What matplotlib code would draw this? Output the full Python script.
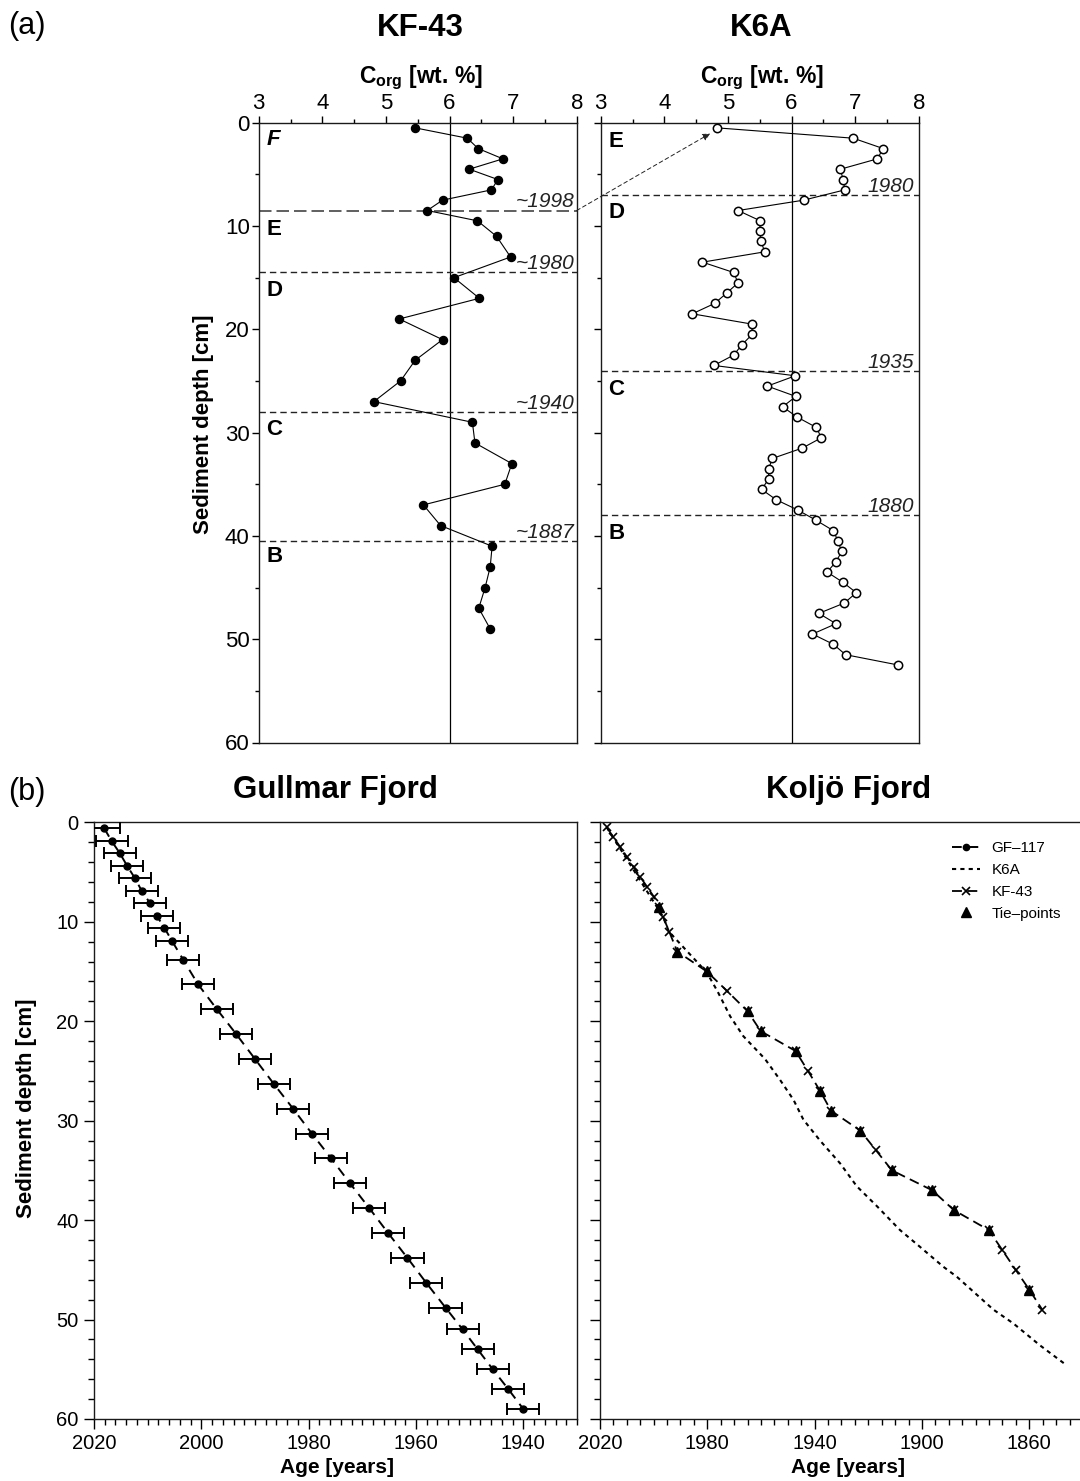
import matplotlib
matplotlib.use('Agg')
import matplotlib.pyplot as plt
from matplotlib.ticker import MultipleLocator, FixedLocator
from matplotlib.patches import ConnectionPatch
from matplotlib.lines import Line2D

plt.rcParams['font.family'] = ['Liberation Sans', 'DejaVu Sans']
plt.rcParams['mathtext.fontset'] = 'custom'
plt.rcParams['mathtext.rm'] = 'Liberation Sans'
plt.rcParams['mathtext.bf'] = 'Liberation Sans:bold'
plt.rcParams['mathtext.it'] = 'Liberation Sans:italic'

# ---------------- data (a) ----------------
KF43_DEPTH = [0.5, 1.5, 2.5, 3.5, 4.5, 5.5, 6.5, 7.5, 8.5, 9.5, 11, 13, 15, 17, 19,
              21, 23, 25, 27, 29, 31, 33, 35, 37, 39, 41, 43, 45, 47, 49]
KF43_CORG = [5.46, 6.28, 6.45, 6.84, 6.31, 6.76, 6.66, 5.89, 5.65, 6.44, 6.74, 6.96,
             6.07, 6.47, 5.21, 5.89, 5.46, 5.23, 4.81, 6.36, 6.40, 6.98, 6.87, 5.59,
             5.86, 6.67, 6.64, 6.56, 6.46, 6.64]

K6A_DEPTH = [0.5, 1.5, 2.5, 3.5, 4.5, 5.5, 6.5, 7.5, 8.5, 9.5, 10.5, 11.5, 12.5, 13.5,
             14.5, 15.5, 16.5, 17.5, 18.5, 19.5, 20.5, 21.5, 22.5, 23.5, 24.5, 25.5,
             26.5, 27.5, 28.5, 29.5, 30.5, 31.5, 32.5, 33.5, 34.5, 35.5, 36.5, 37.5,
             38.5, 39.5, 40.5, 41.5, 42.5, 43.5, 44.5, 45.5, 46.5, 47.5, 48.5, 49.5,
             50.5, 51.5, 52.5]
K6A_CORG = [4.83, 6.97, 7.44, 7.35, 6.77, 6.81, 6.84, 6.19, 5.16, 5.51, 5.50, 5.52,
            5.58, 4.60, 5.09, 5.16, 4.98, 4.79, 4.44, 5.38, 5.38, 5.22, 5.09, 4.78,
            6.06, 5.62, 6.07, 5.86, 6.09, 6.39, 6.47, 6.17, 5.70, 5.64, 5.64, 5.53,
            5.76, 6.10, 6.39, 6.66, 6.73, 6.79, 6.70, 6.56, 6.81, 7.02, 6.83, 6.43,
            6.70, 6.33, 6.66, 6.85, 7.68]

KF43_HORIZON_DEPTH = [8.5, 14.45, 28.05, 40.5]
KF43_HORIZON_LABEL = ['~1998', '~1980', '~1940', '~1887']
K6A_HORIZON_DEPTH = [7.0, 24.0, 38.0]
K6A_HORIZON_LABEL = ['1980', '1935', '1880']

KF43_UNIT_LABEL = ['F', 'E', 'D', 'C', 'B']
KF43_UNIT_DEPTH = [1.6, 10.3, 16.2, 29.7, 42.0]
K6A_UNIT_LABEL = ['E', 'D', 'C', 'B']
K6A_UNIT_DEPTH = [1.8, 8.7, 25.8, 39.8]

# ---------------- data (b) ----------------
GF_DEPTH = [0.6, 1.9, 3.1, 4.4, 5.6, 6.9, 8.1, 9.4, 10.6, 11.9, 13.8, 16.3, 18.8,
            21.3, 23.8, 26.3, 28.8, 31.3, 33.8, 36.3, 38.8, 41.3, 43.8, 46.3, 48.8,
            51.0, 53.0, 55.0, 57.0, 59.0]
GF_AGE = [2018.1, 2016.7, 2015.2, 2013.8, 2012.4, 2011.1, 2009.6, 2008.3, 2006.9,
          2005.5, 2003.4, 2000.6, 1997.1, 1993.5, 1990.0, 1986.5, 1982.9, 1979.4,
          1975.8, 1972.3, 1968.7, 1965.2, 1961.6, 1958.1, 1954.5, 1951.3, 1948.5,
          1945.7, 1942.8, 1940.0]
GF_AGE_ERR = 3.0

KF43_AGE = [2017.5, 2015.0, 2012.4, 2009.9, 2007.5, 2005.0, 2002.4, 1999.9, 1997.9,
            1996.5, 1994.2, 1991.2, 1980.2, 1972.5, 1965.0, 1960.1, 1947.1, 1942.5,
            1938.0, 1933.9, 1923.0, 1917.1, 1911.2, 1896.2, 1888.1, 1875.1, 1870.1,
            1865.1, 1860.0, 1855.2]

K6A_AGE_DEPTH = [0.5, 9.5, 11.0, 15.1, 17.0, 19.5, 21.5, 23.8, 25.9, 27.9, 29.9, 32.0,
                 34.3, 36.6, 38.6, 41.0, 42.7, 44.7, 45.7, 49.0, 50.4, 52.6, 54.6]
K6A_AGE_YEAR = [2017.5, 1996.5, 1994.3, 1980.2, 1976.2, 1971.5, 1966.6, 1958.5, 1952.9,
                1947.9, 1944.2, 1938.0, 1930.5, 1924.3, 1916.8, 1908.2, 1900.7, 1892.0,
                1887.0, 1873.4, 1865.9, 1856.0, 1846.1]

TIE_DEPTH = [8.5, 13, 15, 19, 21, 23, 27, 29, 31, 35, 37, 39, 41, 47]
TIE_AGE = [1997.9, 1991.2, 1980.2, 1965.0, 1960.1, 1947.1, 1938.0, 1933.9, 1923.0,
           1911.2, 1896.2, 1888.1, 1875.1, 1860.0]

# ---------------- figure ----------------
W, H = 1080, 1481
fig = plt.figure(figsize=(W / 100, H / 100), dpi=100)


def fx(px):
    return px / W


def fy(py):
    return 1 - py / H


def box(l, t, r, b):
    return [l / W, 1 - b / H, (r - l) / W, (b - t) / H]


ax1 = fig.add_axes(box(258.7, 122.7, 576.7, 742.5))
ax2 = fig.add_axes(box(600.7, 122.7, 918.7, 742.5))
ax3 = fig.add_axes(box(94, 822.3, 577, 1419))
ax4 = fig.add_axes(box(600, 822.3, 1096.4, 1419))

for ax in (ax1, ax2, ax3, ax4):
    for s in ax.spines.values():
        s.set_linewidth(1.0)
        s.set_color('#1a1a1a')

# ---- top panels ----
for ax in (ax1, ax2):
    ax.set_xlim(3, 8)
    ax.set_ylim(60, 0)
    ax.xaxis.set_major_locator(MultipleLocator(1))
    ax.xaxis.set_minor_locator(MultipleLocator(0.5))
    ax.yaxis.set_major_locator(MultipleLocator(10))
    ax.yaxis.set_minor_locator(MultipleLocator(5))
    ax.tick_params(axis='x', which='both', top=True, bottom=False, labeltop=True,
                   labelbottom=False, direction='out')
    ax.tick_params(axis='y', which='both', left=True, right=False, direction='out')
    ax.tick_params(which='major', length=5, width=1.0, labelsize=16, pad=1.5)
    ax.tick_params(which='minor', length=3, width=1.0)
    ax.axvline(6, color='k', lw=0.9, zorder=1)
ax2.tick_params(axis='y', labelleft=False)

ax1.plot(KF43_CORG, KF43_DEPTH, '-', color='k', lw=0.8, marker='o', ms=5.8,
         mfc='k', mec='k', zorder=3)
ax2.plot(K6A_CORG, K6A_DEPTH, '-', color='k', lw=0.8, marker='o', ms=6.0,
         mfc='white', mec='k', mew=1.1, zorder=3)

for i, (d, lab) in enumerate(zip(KF43_HORIZON_DEPTH, KF43_HORIZON_LABEL)):
    if i == 0:
        ax1.axhline(d, color='#444444', lw=1.2, dashes=(7.5, 3.0), zorder=2)
    else:
        ax1.axhline(d, color='#222222', lw=1.0, dashes=(4.6, 2.9), zorder=2)
    ax1.text(7.96, d - 0.3, lab, ha='right', va='baseline', fontsize=15,
             style='italic', color='#222222')

for d, lab in zip(K6A_HORIZON_DEPTH, K6A_HORIZON_LABEL):
    ax2.axhline(d, color='#222222', lw=1.0, dashes=(4.6, 2.9), zorder=2)
    ax2.text(7.92, d - 0.3, lab, ha='right', va='baseline', fontsize=15,
             style='italic', color='#222222')

for lab, d in zip(KF43_UNIT_LABEL, KF43_UNIT_DEPTH):
    ax1.text(3.12, d, lab, ha='left', va='center', fontsize=16, fontweight='bold',
             style='italic' if lab == 'F' else 'normal')
for lab, d in zip(K6A_UNIT_LABEL, K6A_UNIT_DEPTH):
    ax2.text(3.12, d, lab, ha='left', va='center', fontsize=16, fontweight='bold')

con = ConnectionPatch(xyA=(8, 8.5), coordsA=ax1.transData,
                      xyB=(4.72, 1.05), coordsB=ax2.transData,
                      arrowstyle='-|>', mutation_scale=11, lw=0.7,
                      linestyle=(0, (4, 3)), color='#222222', shrinkA=0, shrinkB=0)
fig.add_artist(con)

# ---- bottom panels ----
for ax in (ax3, ax4):
    ax.set_ylim(60, 0)
    ax.yaxis.set_major_locator(MultipleLocator(10))
    ax.yaxis.set_minor_locator(MultipleLocator(2))
    ax.tick_params(which='both', direction='out', top=False, right=False)
    ax.tick_params(which='major', length=7, width=1.0, labelsize=14.5, pad=4)
    ax.tick_params(which='minor', length=4.5, width=1.0)
ax4.tick_params(axis='y', labelleft=False)

ax3.set_xlim(2020, 1930)
ax3.xaxis.set_major_locator(MultipleLocator(20))
ax3.xaxis.set_minor_locator(MultipleLocator(2))
ax4.set_xlim(2020, 1835)
ax4.xaxis.set_major_locator(FixedLocator([2020, 1980, 1940, 1900, 1860]))
ax4.xaxis.set_minor_locator(MultipleLocator(5))

ax3.plot(GF_AGE, GF_DEPTH, color='k', lw=1.4, dashes=(5, 3.5), zorder=2)
ax3.errorbar(GF_AGE, GF_DEPTH, xerr=GF_AGE_ERR, fmt='o', color='k', ms=5,
             elinewidth=1.4, capsize=4, capthick=1.4, zorder=3)

l_k6a, = ax4.plot(K6A_AGE_YEAR, K6A_AGE_DEPTH, color='k', lw=1.5, dashes=(2.0, 2.0),
                  label='K6A')
l_kf, = ax4.plot(KF43_AGE, KF43_DEPTH, color='k', lw=1.3, dashes=(5.5, 3.0),
                 marker='x', ms=6, mew=1.2, label='KF-43')
l_tie, = ax4.plot(TIE_AGE, TIE_DEPTH, '^', color='k', ms=7, ls='none',
                  label='Tie\u2013points')
l_gf = Line2D([], [], color='k', lw=1.4, dashes=(5, 3.5), marker='o', ms=4.5,
              label='GF\u2013117')
ax4.legend(handles=[l_gf, l_k6a, l_kf, l_tie], loc='upper left',
           bbox_to_anchor=(fx(951.7), fy(841)), bbox_transform=fig.transFigure,
           frameon=False, fontsize=11, borderpad=0, borderaxespad=0,
           handlelength=1.85, handletextpad=0.77, labelspacing=0.52, numpoints=1)

# ---- texts ----
fig.text(fx(8), fy(34), '(a)', fontsize=22, va='baseline', ha='left')
fig.text(fx(420), fy(36), 'KF-43', fontsize=22.5, fontweight='bold',
         ha='center', va='baseline')
fig.text(fx(761), fy(36), 'K6A', fontsize=22.5, fontweight='bold',
         ha='center', va='baseline')
for cx in (421, 762):
    fig.text(fx(cx), fy(83), r'C$_{\mathbf{org}}$ [wt. %]', fontsize=16.5,
             fontweight='bold', ha='center', va='baseline')
fig.text(fx(203), fy(424), 'Sediment depth [cm]', rotation=90, fontsize=16,
         fontweight='bold', ha='center', va='center')

fig.text(fx(8), fy(800), '(b)', fontsize=22, va='baseline', ha='left')
fig.text(fx(335.5), fy(798), 'Gullmar Fjord', fontsize=22.5, fontweight='bold',
         ha='center', va='baseline')
fig.text(fx(849), fy(798), 'Koljö Fjord', fontsize=22.5, fontweight='bold',
         ha='center', va='baseline')
fig.text(fx(27), fy(1108), 'Sediment depth [cm]', rotation=90, fontsize=16,
         fontweight='bold', ha='center', va='center')
fig.text(fx(337), fy(1473), 'Age [years]', fontsize=15, fontweight='bold',
         ha='center', va='baseline')
fig.text(fx(848), fy(1473), 'Age [years]', fontsize=15, fontweight='bold',
         ha='center', va='baseline')

fig.savefig('out.png', dpi=100)
